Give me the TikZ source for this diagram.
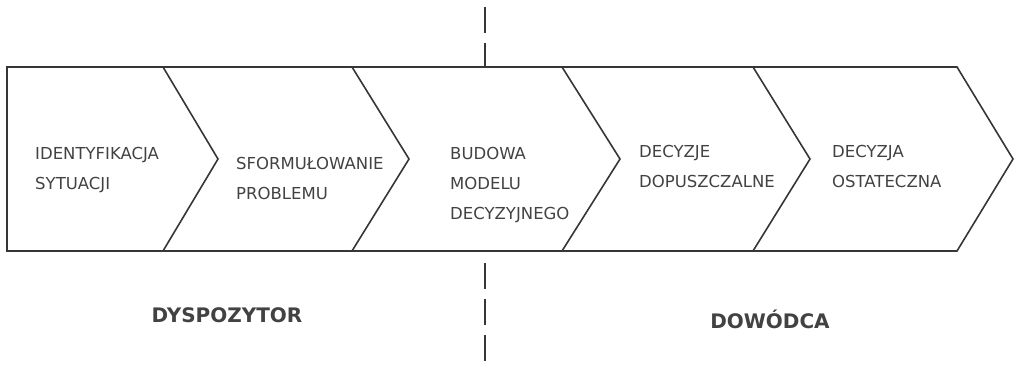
\documentclass[tikz,border=0pt]{standalone}
\usepackage{fontspec}
\setmainfont{DejaVu Sans}
\definecolor{inkline}{HTML}{363636}
\definecolor{inktext}{HTML}{424242}
\begin{document}
\begin{tikzpicture}[x=1pt,y=-1pt,
  outline/.style={draw=inkline,line width=1.6pt,line join=miter},
  divider/.style={draw=inkline,line width=2.4pt,dash pattern=on 26pt off 10pt},
  stagetext/.style={anchor=base west,inner sep=0pt,align=left,text=inktext,
    font=\fontsize{16.5}{30}\selectfont},
  roletext/.style={anchor=base,inner sep=0pt,text=inktext,
    font=\fontsize{20}{24}\selectfont\bfseries}]
\useasboundingbox (0,0) rectangle (1017,366);

% corner points of the band of chevrons
\coordinate (tl) at (7,67);
\coordinate (bl) at (7,251);
\coordinate (a1) at (163,67);  \coordinate (t1) at (218,159); \coordinate (b1) at (163,251);
\coordinate (a2) at (352,67);  \coordinate (t2) at (409,159); \coordinate (b2) at (352,251);
\coordinate (a3) at (562,67);  \coordinate (t3) at (620,159); \coordinate (b3) at (562,251);
\coordinate (a4) at (753,67);  \coordinate (t4) at (810,159); \coordinate (b4) at (753,251);
\coordinate (a5) at (957,67);  \coordinate (t5) at (1013,159); \coordinate (b5) at (957,251);

% outer outline
\draw[outline] (a5) -- (tl) -- (bl) -- (b5) -- (t5) -- cycle;
% inner chevron boundaries
\foreach \i in {1,2,3,4}
  \draw[outline] (a\i) -- (t\i) -- (b\i);

% role divider
\coordinate (dtop) at (485,7);
\coordinate (dbot) at (485,263);
\coordinate (dend) at (485,366);
\draw[divider] (dtop) -- (485,67);
\draw[divider] (dbot) -- (dend);

% stage labels (anchored on the baseline of the last line)
\node[stagetext] (s1) at (35,190)  {IDENTYFIKACJA\\SYTUACJI};
\node[stagetext] (s2) at (236,200) {SFORMUŁOWANIE\\PROBLEMU};
\node[stagetext] (s3) at (450,219) {BUDOWA\\MODELU\\DECYZYJNEGO};
\node[stagetext] (s4) at (639,188) {DECYZJE\\DOPUSZCZALNE};
\node[stagetext] (s5) at (832,188) {DECYZJA\\OSTATECZNA};

% roles
\node[roletext] (r1) at (227,322) {DYSPOZYTOR};
\node[roletext] (r2) at (770,328) {DOWÓDCA};
\end{tikzpicture}
\end{document}
